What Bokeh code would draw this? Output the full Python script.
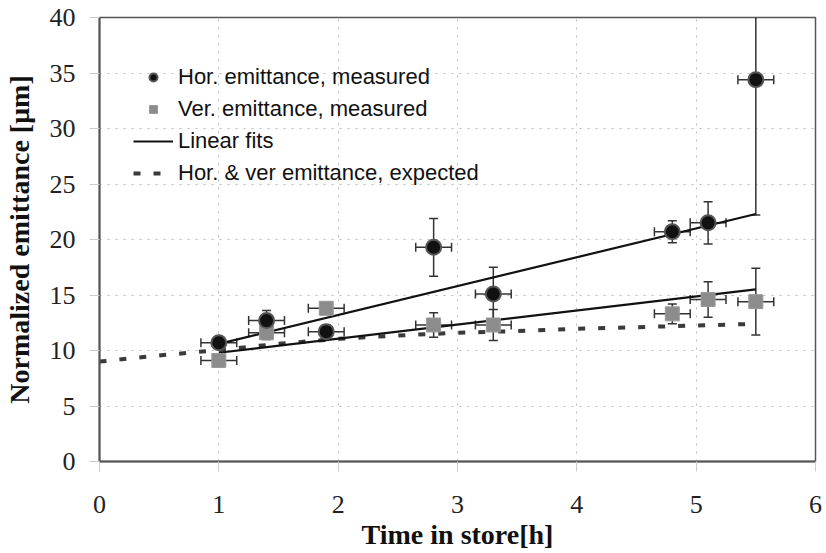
from bokeh.plotting import figure
from bokeh.models import (ColumnDataSource, Whisker, TeeHead, Legend, LegendItem,
                          Range1d, FixedTicker)
from bokeh.embed import file_html
from bokeh.resources import INLINE

# ---- data ----
hor_t = [1.0, 1.4, 1.9, 2.8, 3.3, 4.8, 5.1, 5.5]
hor_e = [10.7, 12.7, 11.7, 19.3, 15.1, 20.7, 21.5, 34.4]
hor_err = [0.5, 0.9, 0.6, 2.6, 2.4, 1.0, 1.9, 12.2]
hor_terr = [0.15, 0.15, 0.15, 0.15, 0.15, 0.15, 0.15, 0.15]

ver_t = [1.0, 1.4, 1.9, 2.8, 3.3, 4.8, 5.1, 5.5]
ver_e = [9.1, 11.6, 13.8, 12.3, 12.3, 13.3, 14.6, 14.4]
ver_err = [0.4, 0.6, 0.5, 1.1, 1.4, 0.9, 1.6, 3.0]
ver_terr = [0.15, 0.15, 0.15, 0.15, 0.15, 0.15, 0.15, 0.15]

hor_fit_t = [1.0, 5.5]
hor_fit_e = [10.6, 22.3]
ver_fit_t = [1.0, 5.5]
ver_fit_e = [9.8, 15.5]

exp_t = [0.0, 0.5, 1.0, 1.5, 2.0, 2.5, 3.0, 3.5, 4.0, 4.5, 5.0, 5.5]
exp_e = [9.0, 9.55, 10.05, 10.6, 11.05, 11.35, 11.6, 11.75, 11.95, 12.1, 12.25, 12.4]

x_ticks = [0, 1, 2, 3, 4, 5, 6]
y_ticks = [0, 5, 10, 15, 20, 25, 30, 35, 40]


def make_source(t, e, err, terr):
    return ColumnDataSource(dict(
        t=t, e=e,
        elo=[a - b for a, b in zip(e, err)], ehi=[a + b for a, b in zip(e, err)],
        tlo=[a - b for a, b in zip(t, terr)], thi=[a + b for a, b in zip(t, terr)],
    ))


hor_src = make_source(hor_t, hor_e, hor_err, hor_terr)
ver_src = make_source(ver_t, ver_e, ver_err, ver_terr)

p = figure(width=826, height=553, output_backend="svg", toolbar_location=None,
           x_range=Range1d(0, 6), y_range=Range1d(0, 40),
           min_border_left=98, min_border_top=17, min_border_right=11,
           min_border_bottom=92, background_fill_color="white",
           border_fill_color="white")

p.outline_line_color = "#555555"
p.outline_line_width = 1.5

for ax in (p.xaxis[0], p.yaxis[0]):
    ax.axis_line_color = "#555555"
    ax.axis_line_width = 2
    ax.major_tick_out = 10
    ax.major_tick_in = 0
    ax.major_tick_line_color = "#cccccc"
    ax.minor_tick_line_color = None
    ax.major_label_text_font = "Liberation Serif"
    ax.major_label_text_font_size = "26px"
    ax.major_label_text_color = "#222222"
    ax.axis_label_text_font = "Liberation Serif"
    ax.axis_label_text_font_style = "bold"
    ax.axis_label_text_font_size = "28px"
    ax.axis_label_text_color = "#111111"

p.xaxis[0].ticker = FixedTicker(ticks=x_ticks)
p.yaxis[0].ticker = FixedTicker(ticks=y_ticks)
p.xaxis.axis_label = "Time in store[h]"
p.yaxis.axis_label = "Normalized emittance [\u03bcm]"
p.xaxis.major_label_standoff = 24
p.yaxis.major_label_standoff = 14
p.xaxis.axis_label_standoff = 3
p.yaxis.axis_label_standoff = 12

for g in (p.xgrid[0], p.ygrid[0]):
    g.grid_line_color = "#bbbbbb"
    g.grid_line_dash = "2 6"
    g.grid_line_width = 1

# expected (dashed)
exp_r = p.line(exp_t, exp_e, line_color="#3a3a3a", line_width=4, line_dash="7 13")
# linear fits
fit_h = p.line(hor_fit_t, hor_fit_e, line_color="#111111", line_width=2.2)
fit_v = p.line(ver_fit_t, ver_fit_e, line_color="#111111", line_width=2.2)

# markers
ver_r = p.scatter("t", "e", source=ver_src, marker="square", size=14,
                  fill_color="#8c8c8c", line_color="#9a9a9a", line_width=1)
hor_r = p.scatter("t", "e", source=hor_src, marker="circle", size=15,
                  fill_color="#111111", line_color="#555555", line_width=2)

# error bars
for src in (hor_src, ver_src):
    wv = Whisker(source=src, base="t", lower="elo", upper="ehi", dimension="height",
                 line_color="#333333", line_width=1.5,
                 upper_head=TeeHead(size=9, line_color="#333333", line_width=1.5),
                 lower_head=TeeHead(size=9, line_color="#333333", line_width=1.5))
    wh = Whisker(source=src, base="e", lower="tlo", upper="thi", dimension="width",
                 line_color="#333333", line_width=1.5,
                 upper_head=TeeHead(size=9, line_color="#333333", line_width=1.5),
                 lower_head=TeeHead(size=9, line_color="#333333", line_width=1.5))
    p.add_layout(wv)
    p.add_layout(wh)

legend = Legend(items=[
    LegendItem(label="Hor. emittance, measured", renderers=[hor_r]),
    LegendItem(label="Ver. emittance, measured", renderers=[ver_r]),
    LegendItem(label="Linear fits", renderers=[fit_h]),
    LegendItem(label="Hor. & ver emittance, expected", renderers=[exp_r]),
], location=(34, 275), orientation="vertical",
    glyph_width=40, glyph_height=20, label_height=20, spacing=6,
    padding=0, margin=0, label_standoff=5,
    label_text_font="Liberation Sans", label_text_font_size="22px",
    label_text_color="#111111",
    background_fill_alpha=0, border_line_color=None)
p.add_layout(legend, "center")

open("out.html", "w").write(file_html(p, INLINE))
